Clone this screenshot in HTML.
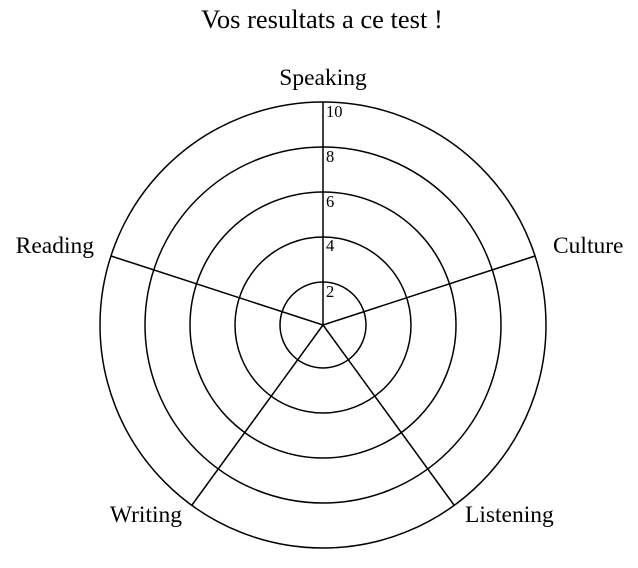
<!DOCTYPE html>
<html><head><style>body{margin:0;background:#fff}svg{display:block}</style></head><body>
<svg width="638" height="568" xmlns="http://www.w3.org/2000/svg" font-family="Liberation Serif, serif" fill="#000">
<text x="322" y="28" font-size="26.5" text-anchor="middle">Vos resultats a ce test !</text>
<g fill="none" stroke="#000" stroke-width="1.5">
<circle cx="323" cy="325" r="223"/>
<circle cx="323" cy="325" r="178"/>
<circle cx="323" cy="325" r="133"/>
<circle cx="323" cy="325" r="88"/>
<circle cx="323" cy="325" r="43"/>
<line x1="323" y1="325" x2="323" y2="102"/>
<line x1="323" y1="325" x2="535" y2="256"/>
<line x1="323" y1="325" x2="111" y2="256"/>
<line x1="323" y1="325" x2="454" y2="505"/>
<line x1="323" y1="325" x2="192" y2="505"/>
</g>
<g font-size="16.5">
<text x="326" y="117">10</text>
<text x="326" y="162">8</text>
<text x="326" y="207">6</text>
<text x="326" y="251">4</text>
<text x="326" y="297">2</text>
</g>
<g font-size="23.5">
<text x="323" y="85" text-anchor="middle">Speaking</text>
<text x="553" y="253">Culture</text>
<text x="94" y="253" text-anchor="end">Reading</text>
<text x="465" y="522">Listening</text>
<text x="182" y="522" text-anchor="end">Writing</text>
</g>
</svg>
</body></html>
